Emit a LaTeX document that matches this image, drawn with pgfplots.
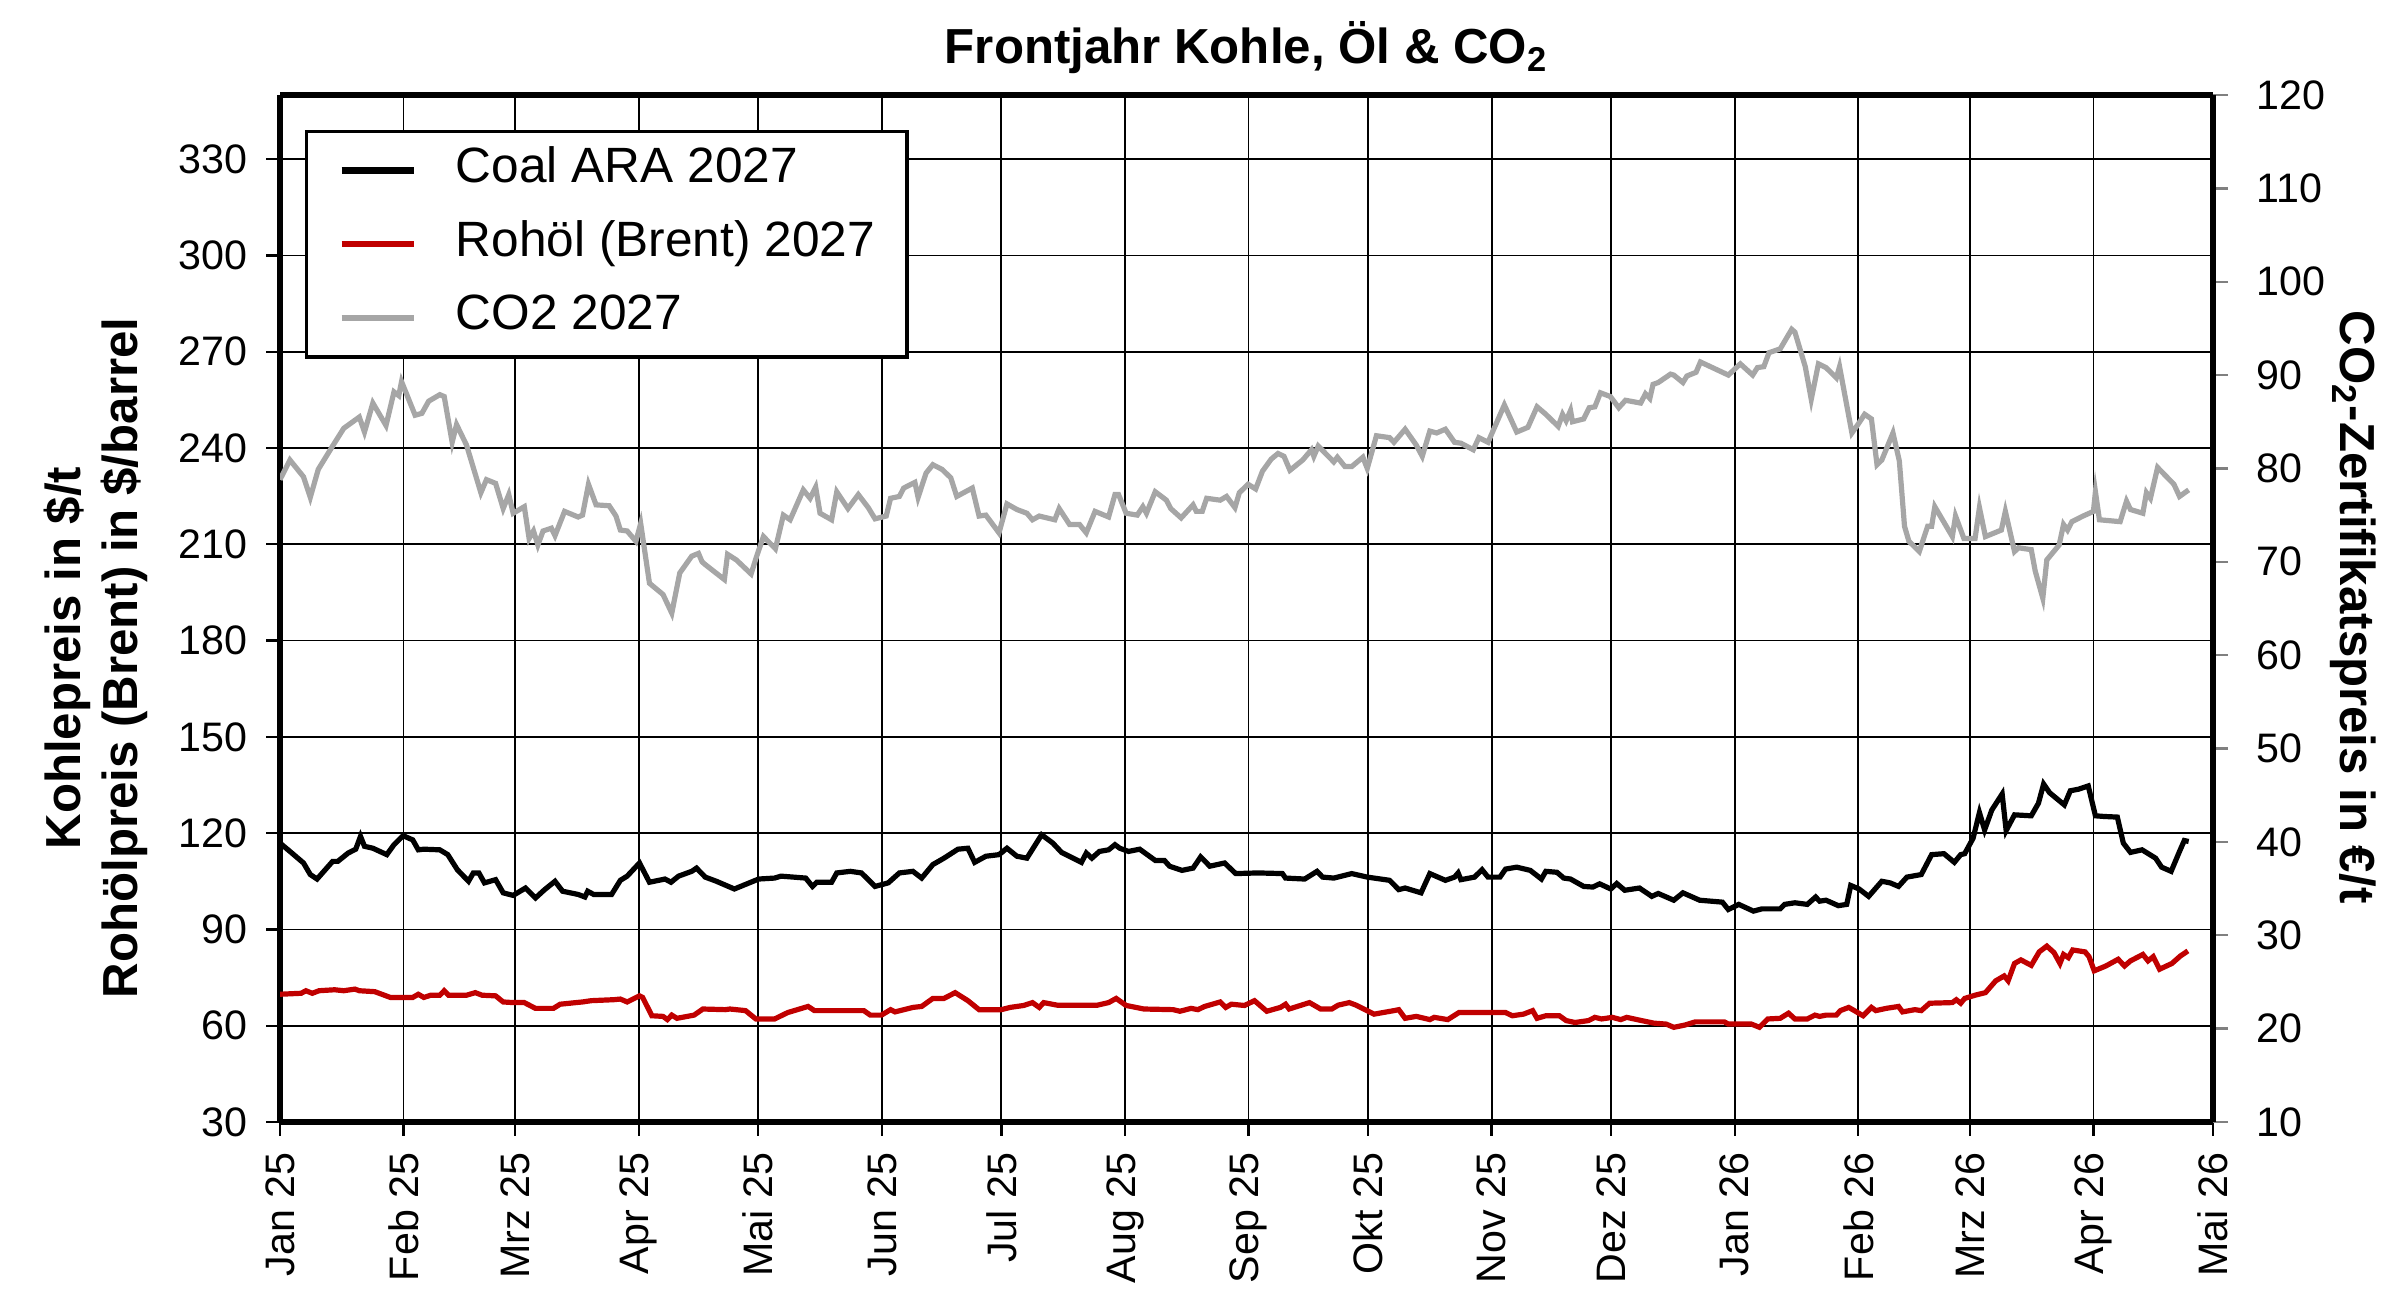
\documentclass[border=0pt]{standalone}
\usepackage{fontspec}
\setmainfont{Liberation Sans}
\usepackage{pgfplots}
\pgfplotsset{compat=1.18}
\definecolor{oilred}{RGB}{192,0,0}
\definecolor{co2gray}{RGB}{166,166,166}
\begin{document}
\begin{tikzpicture}
\path[use as bounding box] (0,0) rectangle (600pt,323pt);
\begin{axis}[
  at={(70pt,42.5pt)}, anchor=south west,
  scale only axis, width=483.25pt, height=256.75pt,
  xmin=0, xmax=485, ymin=30, ymax=350,
  xtick={0,31,59,90,120,151,181,212,243,273,304,334,365,396,424,455,485},
  xticklabels={Jan 25,Feb 25,Mrz 25,Apr 25,Mai 25,Jun 25,Jul 25,Aug 25,Sep 25,Okt 25,Nov 25,Dez 25,Jan 26,Feb 26,Mrz 26,Apr 26,Mai 26},
  ytick={30,60,...,330},
  grid=major, grid style={black, line width=0.45pt},
  separate axis lines,
  axis line style={black, line width=1.4pt},
  tick align=outside, tick pos=left,
  major tick length=3.5pt,
  tick style={black, line width=0.6pt},
  /pgf/number format/assume math mode=true,
  ticklabel style={font=\fontsize{10.3}{12}\selectfont, inner sep=0pt},
  xticklabel style={rotate=90, anchor=east},
  yticklabel style={anchor=east},
  xticklabel shift=4.0pt,
  yticklabel shift=4.4pt,
  title={Frontjahr Kohle, Öl \& CO\textsubscript{2}},
  title style={at={(0.5,1)}, anchor=base, yshift=1.8pt, inner sep=0pt, font=\bfseries\fontsize{12.3}{14}\selectfont},
]
\addplot[black, line width=1.3pt] coordinates {
(0,116.9)(2.5,114.3)(5.9,110.7)(7.6,107.1)(9.3,105.7)(13.2,111.2)(14.5,111.2)(17.1,113.8)(19,115.0)(20.2,119.0)
(21.2,115.9)(23.3,115.3)(26.8,113.3)(28.6,116.4)(30.9,119.2)(33.3,117.9)(34.7,114.8)(36.1,115.0)(40.1,114.8)(42.1,113.3)
(44.5,108.6)(47.3,105.0)(48.5,107.6)(49.9,107.6)(51.3,104.5)(54.1,105.5)(56,101.4)(58.5,100.6)(61.6,102.9)(64.1,99.8)
(66.4,102.4)(69,105.0)(70.9,101.9)(74.8,100.9)(76.5,100.1)(77.2,101.9)(78.7,100.9)(83.2,100.9)(85.4,105.3)(87.1,106.6)
(90.2,110.7)(92.7,104.7)(96.6,105.7)(98.1,104.7)(100,106.6)(103.3,108.1)(104.5,109.1)(106.7,106.3)(109.5,105.0)(114,102.6)
(120.1,105.7)(124.1,106.0)(125.7,106.6)(131.9,106.0)(133.6,103.4)(134.7,104.7)(138.4,104.7)(139.7,107.6)(143.1,108.1)(145.9,107.6)
(149.3,103.4)(152.6,104.5)(155.4,107.6)(158.8,108.1)(161,106.0)(163.8,110.2)(166.6,112.2)(170.1,115.0)(172.6,115.3)(174.3,110.9)
(177.1,112.8)(180.4,113.3)(182.4,115.3)(184.9,112.8)(187.4,112.2)(191.1,119.5)(193.9,116.9)(196.1,114.0)(201.1,110.9)(202.3,113.8)
(203.7,112.2)(205.6,114.3)(207.9,114.8)(209.5,116.4)(210.7,115.3)(212.9,114.3)(215.7,115.0)(219.6,111.5)(221.9,111.5)(223.2,109.7)
(226.3,108.4)(229.1,109.1)(231,112.6)(233.3,109.7)(237,110.7)(239.8,107.4)(245.4,107.6)(251.5,107.4)(252.3,106.0)(257.1,105.7)
(260.2,108.1)(261.6,106.3)(264.4,106.0)(268.9,107.4)(272.8,106.3)(278.4,105.3)(280.7,102.4)(282.3,102.9)(286.3,101.4)(288.5,107.4)
(292.4,105.3)(294.7,106.3)(295.6,107.6)(296.3,105.5)(299.7,106.3)(301.6,108.6)(303.1,106.3)(306.1,106.3)(307.5,108.8)(310.3,109.4)
(313.7,108.4)(316.5,105.7)(317.6,108.1)(320.4,107.8)(322.1,106.0)(323.8,105.7)(327.1,103.4)(329.4,103.2)(331.1,104.2)(333.9,102.6)
(335.4,104.3)(337.4,102.2)(341.1,102.9)(344.2,100.3)(345.8,101.2)(349.7,99.1)(352,101.4)(356.2,99.1)(361.9,98.5)(363.4,96.2)
(366,97.8)(369.7,95.7)(371.8,96.4)(376.4,96.4)(377.5,97.8)(380.1,98.3)(383.2,97.8)(385.3,100.1)(386.3,98.8)(387.9,99.1)
(391,97.4)(393.1,97.8)(394.1,103.7)(396.2,102.6)(398.6,100.3)(401.9,105.0)(404,104.5)(406.1,103.4)(408.2,106.3)(411.8,107.1)
(414.4,113.3)(417.5,113.6)(420.1,110.9)(421.7,113.3)(422.7,113.6)(424.8,118.4)(426.4,126.4)(427.7,121.0)(429.5,127.2)(432.1,132.2)
(433.1,120.8)(435.2,125.7)(439.4,125.4)(441.2,129.3)(442.5,135.3)(444,132.6)(447.7,128.8)(449.2,133.2)(451.3,133.7)(453.7,134.7)
(455.5,125.4)(457.6,125.2)(461,125.0)(462.5,116.9)(464.3,114.0)(467.2,114.8)(470.6,112.2)(472.1,109.4)(474.5,108.1)(476.6,114.3)
(477.8,117.7)(478.9,117.4)
};
\addplot[oilred, line width=1.3pt] coordinates {
(0,69.8)(5.3,70.1)(6.5,70.9)(8.1,70.1)(9.8,70.9)(13.7,71.2)(16,70.9)(18.8,71.4)(19.9,70.9)(23.8,70.6)
(27.7,68.8)(31.1,68.8)(33.3,68.8)(34.7,69.8)(36.1,68.8)(37.8,69.5)(40.1,69.5)(41.2,70.9)(42.3,69.5)(46.8,69.5)
(49,70.3)(50.7,69.5)(54.1,69.3)(56,67.4)(58.5,67.2)(61.3,67.2)(64.1,65.4)(68.6,65.4)(70.3,66.7)(75.9,67.4)
(78.1,67.8)(83.7,68.1)(85.4,68.3)(87.1,67.4)(90.2,69.3)(91,68.8)(93.3,63.1)(96.1,62.9)(97.2,61.9)(98.3,63.3)
(99.6,62.3)(103.9,63.3)(106.1,65.2)(111.7,65.0)(112.9,65.2)(116.8,64.7)(119.4,62.1)(124.1,62.1)(127.4,64.1)(132.5,66.0)
(134.1,64.7)(146.5,64.7)(148.1,63.3)(150.9,63.3)(153.2,65.0)(154.3,64.3)(158.8,65.7)(161,66.0)(163.8,68.5)(166.6,68.5)
(169.4,70.3)(172.6,67.8)(175.4,65.0)(181,65.0)(183.2,65.7)(186.6,66.3)(188.8,67.2)(190.5,65.7)(191.6,67.2)(195,66.4)
(205.1,66.4)(207.9,67.2)(209.8,68.5)(212.3,66.3)(216.8,65.2)(224.1,65.0)(225.8,64.5)(228.6,65.4)(230.3,65.0)(232,66.0)
(235.9,67.4)(237.3,65.7)(238.7,66.7)(242,66.3)(244.5,67.8)(247.6,64.5)(251,65.7)(252.3,66.7)(253.2,65.2)(258.3,67.2)
(261.1,65.2)(263.9,65.2)(265.5,66.4)(268.3,67.2)(270,66.4)(274.5,63.6)(279.5,64.7)(280.7,65.0)(282.3,62.3)(285.1,62.9)
(288.5,61.9)(289.6,62.6)(293,61.9)(295.8,64.1)(307.5,64.1)(309.2,63.1)(312,63.6)(314.3,64.7)(315.4,62.3)(317.6,63.1)
(321,63.1)(322.7,61.6)(324.9,61.0)(328.3,61.6)(329.9,62.6)(331.6,62.1)(334.3,62.6)(336.4,61.9)(337.9,62.6)(341.6,61.6)
(344.7,60.8)(347.8,60.5)(349.7,59.5)(352.5,60.2)(355.1,61.2)(362.4,61.2)(363.4,60.5)(369.2,60.5)(371.2,59.5)(373.3,62.1)
(376.4,62.3)(378.5,63.9)(380.1,62.1)(383.2,62.1)(385.1,63.3)(386.3,62.9)(387.9,63.3)(390.5,63.3)(391.5,64.7)(393.6,65.7)
(394.6,65.0)(397.2,63.1)(399.3,65.7)(400.4,64.7)(403,65.4)(406.1,66.0)(407.1,64.3)(410.2,65.0)(411.8,64.7)(413.9,67.0)
(419.6,67.2)(420.6,68.1)(421.7,67.0)(422.7,68.5)(425.3,69.5)(427.9,70.3)(430.5,74.0)(432.6,75.5)(433.6,74.0)(435.2,79.4)
(436.8,80.5)(439.4,78.8)(441.4,83.0)(443.3,84.8)(445.1,82.8)(446.6,79.4)(447.5,82.2)(448.7,81.2)(449.8,83.6)(452.9,83.0)
(453.9,81.5)(455.2,77.1)(458.1,78.6)(461.2,80.7)(462.8,78.6)(464.3,80.2)(467.4,82.2)(468.7,80.2)(470,81.5)(471.6,77.6)
(474.7,79.4)(476.8,81.7)(478.7,83.3)
};
\end{axis}
\begin{axis}[
  at={(70pt,42.5pt)}, anchor=south west,
  scale only axis, width=483.25pt, height=256.75pt,
  xmin=0, xmax=485, ymin=10, ymax=120,
  ytick={10,20,...,120},
  hide x axis,
  axis y line*=right,
  y axis line style={black, line width=1.4pt},
  tick align=outside,
  major tick length=3.75pt,
  ytick style={gray, line width=0.6pt},
  /pgf/number format/assume math mode=true,
  yticklabel style={font=\fontsize{10.3}{12}\selectfont, inner sep=0pt, anchor=west},
  yticklabel shift=7pt,
  legend cell align=left,
  legend image code/.code={\draw[#1, line width=1.6pt] (0pt,0pt) -- (18.2pt,0pt);},
  legend style={at={(0.0128,0.966)}, anchor=north west, draw=black, line width=0.8pt, fill=white,
    inner xsep=8pt, inner ysep=3.8pt, row sep=6.4pt,
    font=\fontsize{12.4}{14}\selectfont,
    nodes={inner sep=0pt, text height=9pt, text depth=3pt},
    /tikz/every odd column/.append style={column sep=9.6pt}},
]
\addlegendimage{black}
\addlegendentry{Coal ARA 2027}
\addlegendimage{oilred}
\addlegendentry{Rohöl (Brent) 2027}
\addplot[co2gray, line width=1.3pt] coordinates {
(0,78.8)(2.5,80.9)(5.9,79.1)(7.6,76.9)(9.6,79.9)(13.2,82.4)(16,84.3)(19.9,85.5)(21.2,83.9)(23.3,87.0)
(26.6,84.6)(28.6,88.2)(29.8,87.8)(30.5,89.3)(33.9,85.7)(35.6,85.9)(37.3,87.2)(40.1,87.9)(41.2,87.7)(43.2,82.8)
(44.3,84.7)(46.8,82.5)(50.4,77.4)(51.8,78.8)(54.1,78.4)(56,75.7)(57.4,77.2)(58.5,75.2)(61.3,75.9)(62.5,72.5)
(63.6,73.3)(64.7,71.8)(66,73.3)(68.1,73.6)(69,72.8)(71.4,75.4)(74.8,74.8)(75.9,75.0)(77.4,78.3)(79.3,76.1)
(82.6,76.0)(84.3,74.9)(85.4,73.4)(87.1,73.3)(89.3,72.2)(90.5,74.1)(92.7,67.7)(96.1,66.5)(98.3,64.5)(100.3,68.8)
(103.3,70.6)(105,70.9)(105.9,70.0)(106.7,69.7)(111.5,68.1)(112.3,70.8)(114.5,70.2)(118.2,68.7)(119.6,70.6)(121.3,72.7)
(124.3,71.4)(126.3,75.0)(128,74.5)(131.3,77.7)(133,76.8)(134.4,78.0)(135.5,75.2)(138.4,74.5)(139.7,77.5)(142.5,75.7)
(145.1,77.2)(147.6,75.8)(149.3,74.6)(152.1,74.9)(153.2,76.8)(155.4,77.0)(156.5,77.9)(159.3,78.5)(160.1,76.9)(162.1,79.5)
(163.8,80.4)(166.1,79.9)(168.3,79.0)(169.8,77.0)(173.7,77.9)(175.4,74.9)(177.1,75.0)(180.4,73.1)(182.4,76.2)(184.9,75.6)
(187.4,75.2)(188.8,74.5)(190.5,74.9)(194.4,74.5)(195.5,75.7)(198.1,74.0)(200.6,74.0)(202.3,73.1)(204.5,75.4)(207.9,74.8)
(209.5,77.2)(210.4,77.2)(212.3,75.2)(215.1,75.0)(216.5,75.9)(217.4,75.2)(219.6,77.5)(222.4,76.6)(223.5,75.7)(226.1,74.7)
(229.1,76.1)(229.9,75.4)(231.4,75.4)(232.5,76.8)(235.9,76.6)(237.5,77.0)(239.6,75.8)(240.7,77.4)(242.9,78.3)(244.8,77.8)
(246.5,79.7)(248.7,81.0)(250.4,81.6)(251.9,81.3)(253.4,79.8)(256.6,80.9)(258.8,82.0)(259.4,81.3)(260.5,82.4)(264.4,80.7)
(265.3,81.2)(267.2,80.2)(268.9,80.2)(271.7,81.2)(272.8,80.0)(275.1,83.5)(278.4,83.3)(279.5,82.8)(282.3,84.2)(285.1,82.5)
(286.6,81.3)(288.5,84.0)(290.2,83.8)(292.4,84.2)(294.7,82.8)(296.3,82.7)(299.4,82.0)(300.8,83.3)(303.1,82.8)(307.2,86.8)
(310.3,83.9)(313.1,84.4)(315.4,86.6)(317.6,85.8)(320.7,84.5)(321.8,85.8)(322.7,85.1)(323.8,86.2)(324.3,85.0)(327.1,85.3)
(328.5,86.5)(329.9,86.6)(331.3,88.1)(333.8,87.7)(335.9,86.5)(337.6,87.3)(341.4,87.0)(342.6,88.0)(343.7,87.5)(344.5,89.0)
(345.8,89.2)(348.9,90.1)(349.7,90.0)(352,89.2)(353,89.9)(355.3,90.3)(356.4,91.4)(363.4,90.0)(366.4,91.2)(369.5,90.0)
(370.7,90.8)(372.3,90.9)(373.6,92.4)(376.4,92.8)(377.5,93.6)(379.3,94.9)(380.1,94.6)(382.7,90.9)(384.2,87.4)(386,91.2)
(387.9,90.8)(390.5,89.7)(391.3,90.9)(394.4,83.8)(395.9,84.7)(397.6,85.8)(399.3,85.3)(400.7,80.4)(401.9,80.9)(404.7,83.8)
(406.3,80.8)(407.6,73.8)(408.7,72.2)(411.3,71.1)(413.4,73.8)(414.4,73.8)(415.2,75.9)(419.6,72.7)(420.4,74.9)(422.5,72.5)
(425.3,72.5)(426.4,75.8)(427.9,72.7)(431.9,73.4)(432.9,75.4)(435.2,71.1)(436.2,71.5)(439.4,71.3)(440.4,69.0)(442.3,66.1)
(443.3,70.2)(446.4,71.8)(447.5,74.0)(448.5,73.4)(449.6,74.3)(452.4,74.9)(455,75.4)(455.5,77.5)(456.5,74.5)(461.7,74.3)
(463.3,76.5)(464.3,75.6)(467.4,75.2)(468.3,77.4)(469.3,76.8)(471.1,80.1)(475.2,78.3)(476.6,77.0)(478.9,77.7)
};
\addlegendentry{CO2 2027}
\end{axis}
\node[rotate=90, align=center, anchor=center, font=\bfseries\fontsize{12.3}{14.25}\selectfont] at (24pt,158.5pt) {Kohlepreis in \$/t\\Rohölpreis (Brent) in \$/barrel};
\node[rotate=-90, anchor=center, font=\bfseries\fontsize{12.3}{14}\selectfont] at (588.2pt,171.2pt) {CO\textsubscript{2}-Zertifikatspreis in €/t};
\end{tikzpicture}
\end{document}
